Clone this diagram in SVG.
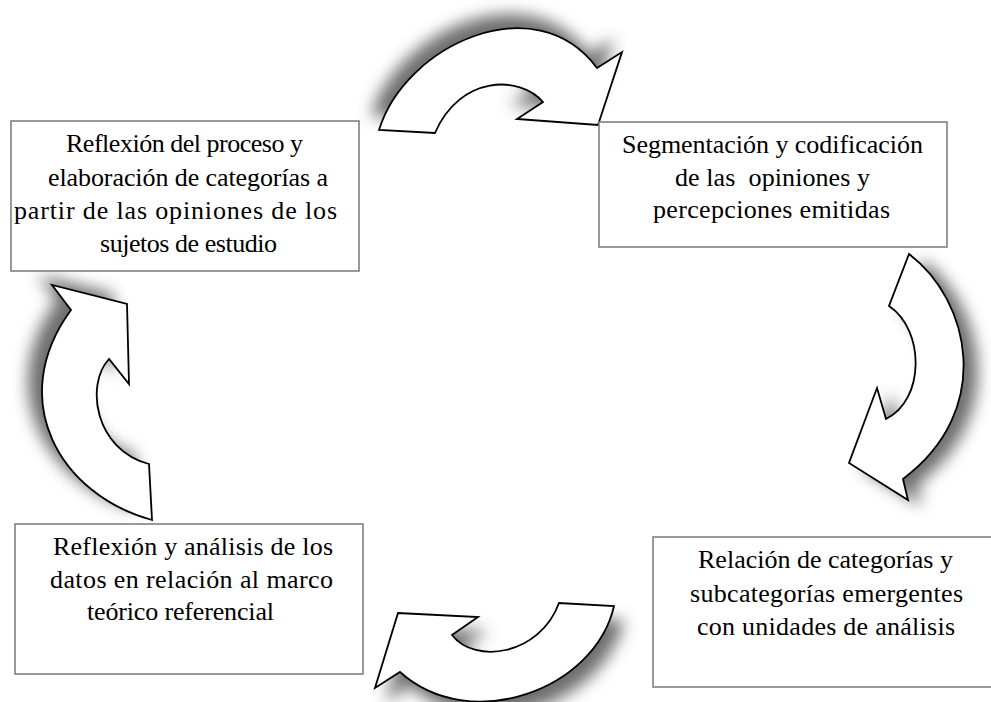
<svg xmlns="http://www.w3.org/2000/svg" xmlns:xlink="http://www.w3.org/1999/xlink" width="991" height="702" viewBox="0 0 991 702">
<style>
.box{fill:#ffffff;stroke:#808080;stroke-width:1.6}
.lbl{font-family:"Liberation Serif","Times New Roman",serif;font-size:26px;fill:#000000;text-anchor:middle}
.arrow{fill:#ffffff;stroke:#000000;stroke-width:1.8;stroke-linejoin:miter}
.shadow{fill:#4a4a4a;opacity:0.8;filter:url(#blur)}
</style>
<defs>
<filter id="blur" x="-40%" y="-40%" width="180%" height="180%"><feGaussianBlur stdDeviation="8"/></filter>
<path id="a-top" d="M379,130 C405,45 535,-15 597,68 L622,52 L598,125 L517,119 L543,102 C520,75 460,75 435,133 Z"/>
<path id="a-right" d="M909,254 C970,300 995,410 903,479 L908,500 L849,463 L877,388 L886,419 C925,400 925,330 889,306 Z"/>
<path id="a-bottom" d="M614,606 C595,690 470,735 400,672 L375,688 L398,613 L478,617 L452,635 C475,665 540,655 559,603 Z"/>
<path id="a-left" d="M152,520 C60,495 5,400 71,310 L52,285 L127,304 L129,384 L109,359 C85,385 95,450 149,464 Z"/>
</defs>
<g id="connectors">
<use xlink:href="#a-top" href="#a-top" class="shadow" transform="translate(-8,-14)"/>
<use xlink:href="#a-right" href="#a-right" class="shadow" transform="translate(14,6)"/>
<use xlink:href="#a-bottom" href="#a-bottom" class="shadow" transform="translate(10,14)"/>
<use xlink:href="#a-left" href="#a-left" class="shadow" transform="translate(-14,-10)"/>
<use xlink:href="#a-top" href="#a-top" class="arrow"/>
<use xlink:href="#a-right" href="#a-right" class="arrow"/>
<use xlink:href="#a-bottom" href="#a-bottom" class="arrow"/>
<use xlink:href="#a-left" href="#a-left" class="arrow"/>
</g>
<g id="node-reflexion-proceso">
<rect class="box" x="11" y="121" width="348" height="150"/>
<text class="lbl" x="184.5" y="152" textLength="237" lengthAdjust="spacing">Reflexión del proceso y</text>
<text class="lbl" x="188" y="186" textLength="280" lengthAdjust="spacing">elaboración de categorías a</text>
<text class="lbl" x="175.5" y="219" textLength="323" lengthAdjust="spacing">partir de las opiniones de los</text>
<text class="lbl" x="188.5" y="252" textLength="177" lengthAdjust="spacing">sujetos de estudio</text>
</g>
<g id="node-segmentacion">
<rect class="box" x="599" y="122" width="348" height="125"/>
<text class="lbl" x="772.5" y="153" textLength="301" lengthAdjust="spacing">Segmentación y codificación</text>
<text class="lbl" x="772.5" y="186" textLength="195" lengthAdjust="spacing" style="white-space:pre">de las  opiniones y</text>
<text class="lbl" x="771.5" y="218" textLength="237" lengthAdjust="spacing">percepciones emitidas</text>
</g>
<g id="node-relacion-categorias">
<rect class="box" x="653" y="537" width="346" height="150"/>
<text class="lbl" x="825.5" y="568" textLength="255" lengthAdjust="spacing">Relación de categorías y</text>
<text class="lbl" x="826.5" y="602" textLength="273" lengthAdjust="spacing">subcategorías emergentes</text>
<text class="lbl" x="826" y="635" textLength="258" lengthAdjust="spacing">con unidades de análisis</text>
</g>
<g id="node-reflexion-analisis">
<rect class="box" x="15" y="524" width="348" height="150"/>
<text class="lbl" x="193" y="555" textLength="280" lengthAdjust="spacing">Reflexión y análisis de los</text>
<text class="lbl" x="191.5" y="588" textLength="283" lengthAdjust="spacing">datos en relación al marco</text>
<text class="lbl" x="180.5" y="620" textLength="187" lengthAdjust="spacing">teórico referencial</text>
</g>
</svg>
